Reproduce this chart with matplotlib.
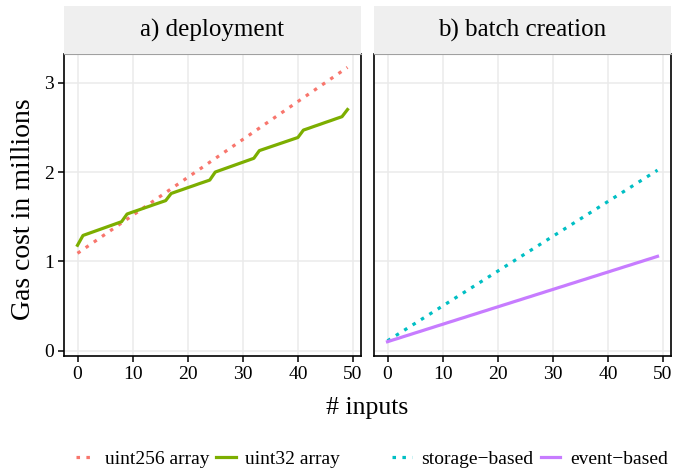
import matplotlib
matplotlib.use("Agg")
import matplotlib.pyplot as plt
from matplotlib.lines import Line2D

plt.rcParams['font.family'] = ['Liberation Serif', 'DejaVu Serif']

# ---- data ----
inputs = list(range(50))

uint256_array = [1.090, 1.132, 1.175, 1.217, 1.260, 1.302, 1.345, 1.387, 1.430, 1.472,
                 1.515, 1.557, 1.600, 1.642, 1.685, 1.727, 1.770, 1.812, 1.855, 1.897,
                 1.940, 1.982, 2.025, 2.067, 2.110, 2.152, 2.195, 2.237, 2.280, 2.322,
                 2.365, 2.407, 2.450, 2.492, 2.535, 2.577, 2.620, 2.662, 2.705, 2.747,
                 2.790, 2.832, 2.875, 2.917, 2.960, 3.002, 3.045, 3.087, 3.130, 3.172]

uint32_array = [1.180, 1.290, 1.312, 1.334, 1.356, 1.378, 1.400, 1.422, 1.444, 1.530,
                1.552, 1.573, 1.595, 1.616, 1.638, 1.659, 1.680, 1.760, 1.782, 1.803,
                1.825, 1.846, 1.868, 1.889, 1.910, 2.000, 2.022, 2.044, 2.066, 2.088,
                2.110, 2.132, 2.154, 2.240, 2.261, 2.282, 2.303, 2.324, 2.345, 2.366,
                2.387, 2.470, 2.491, 2.513, 2.534, 2.556, 2.577, 2.599, 2.620, 2.700]

storage_based = [0.110, 0.149, 0.188, 0.227, 0.266, 0.305, 0.344, 0.383, 0.422, 0.461,
                 0.500, 0.539, 0.578, 0.617, 0.656, 0.695, 0.734, 0.773, 0.812, 0.851,
                 0.890, 0.929, 0.968, 1.007, 1.046, 1.085, 1.124, 1.163, 1.202, 1.241,
                 1.280, 1.319, 1.358, 1.397, 1.436, 1.475, 1.514, 1.553, 1.592, 1.631,
                 1.670, 1.709, 1.748, 1.787, 1.826, 1.865, 1.904, 1.943, 1.982, 2.021]

event_based = [0.100, 0.120, 0.139, 0.159, 0.178, 0.198, 0.217, 0.237, 0.256, 0.276,
               0.295, 0.315, 0.334, 0.354, 0.373, 0.393, 0.412, 0.432, 0.451, 0.471,
               0.490, 0.510, 0.529, 0.549, 0.568, 0.588, 0.607, 0.627, 0.646, 0.666,
               0.685, 0.705, 0.724, 0.744, 0.763, 0.783, 0.802, 0.822, 0.841, 0.861,
               0.880, 0.900, 0.919, 0.939, 0.958, 0.978, 0.997, 1.017, 1.036, 1.056]

panel_titles = ["a) deployment", "b) batch creation"]
legend_a = ["uint256 array", "uint32 array"]
legend_b = ["storage\u2212based", "event\u2212based"]
x_ticks = [0, 10, 20, 30, 40, 50]
y_ticks = [0, 1, 2, 3]

RED, GREEN, CYAN, PURPLE = "#F8766D", "#7CAE00", "#00BFC4", "#C77CFF"
DOT = (0, (1.1, 2.0))

W, H = 689, 473
fig = plt.figure(figsize=(W / 100, H / 100), dpi=100)

def fx(px): return px / W
def fy(py): return 1 - py / H

ax_top, ax_bot = 54, 356
strip_top = 6
panels_px = [(64, 361), (374, 671)]
axes = []
for i, (l, r) in enumerate(panels_px):
    ax = fig.add_axes([fx(l), fy(ax_bot), fx(r - l), fy(ax_top) - fy(ax_bot)])
    axes.append(ax)
    sax = fig.add_axes([fx(l), fy(ax_top), fx(r - l), fy(strip_top) - fy(ax_top)])
    sax.set_facecolor("#EFEFEF")
    sax.set_xticks([]); sax.set_yticks([])
    for s in sax.spines.values():
        s.set_visible(False)
    sax.text(0.5, 0.5, panel_titles[i], ha="center", va="center", fontsize=18,
             transform=sax.transAxes)

for i, ax in enumerate(axes):
    ax.set_xlim(-2.45, 51.45)
    ax.set_ylim(-0.06, 3.322)
    ax.set_xticks(x_ticks)
    ax.set_yticks(y_ticks)
    ax.grid(True, color="#EBEBEB", linewidth=1.1)
    ax.set_axisbelow(True)
    ax.tick_params(axis="both", length=4, width=1.1, color="black", labelsize=14,
                   pad=3, direction="out")
    for side in ["left", "bottom", "right"]:
        ax.spines[side].set_color("black")
        ax.spines[side].set_linewidth(1.2)
    ax.spines["top"].set_color("#A0A0A0")
    ax.spines["top"].set_linewidth(0.8)
    if i == 1:
        ax.set_yticklabels([])
        ax.tick_params(axis="y", length=0)

axes[0].plot(inputs, uint256_array, color=RED, lw=2.3, linestyle=DOT)
axes[0].plot(inputs, uint32_array, color=GREEN, lw=2.3)
axes[1].plot(inputs, storage_based, color=CYAN, lw=2.3, linestyle=DOT)
axes[1].plot(inputs, event_based, color=PURPLE, lw=2.3)

fig.text(fx(24), fy(209), "Gas cost in millions", rotation=90, ha="center",
         va="center", fontsize=20)
fig.text(fx(367), fy(408), "# inputs", ha="center", va="center", fontsize=18.5)

h_a = [Line2D([], [], color=RED, lw=2.3, linestyle=DOT),
       Line2D([], [], color=GREEN, lw=2.3)]
h_b = [Line2D([], [], color=CYAN, lw=2.3, linestyle=DOT),
       Line2D([], [], color=PURPLE, lw=2.3)]
common = dict(ncol=2, frameon=False, fontsize=14, handlelength=1.0,
              handletextpad=0.5, columnspacing=0.36, borderpad=0, borderaxespad=0,
              loc="center")
fig.legend(h_a, legend_a, bbox_to_anchor=(fx(208), fy(459)), **common)
fig.legend(h_b, legend_b, bbox_to_anchor=(fx(530), fy(459)), **common)

fig.savefig("out.png", dpi=100)
